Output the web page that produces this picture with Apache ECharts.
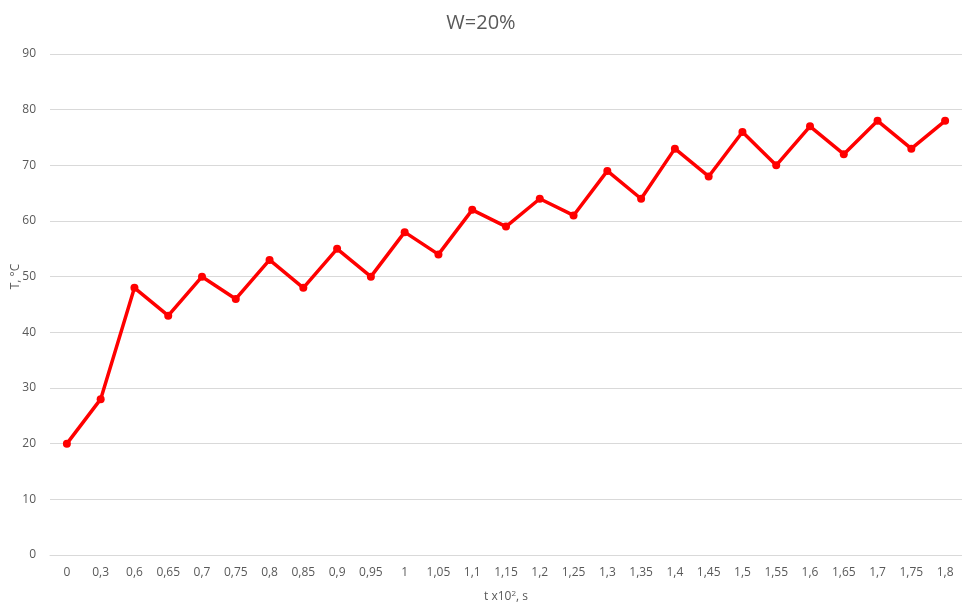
<!DOCTYPE html>
<html>
<head>
<meta charset="utf-8">
<script src="https://cdn.jsdelivr.net/npm/echarts@6/dist/echarts.min.js"></script>
<style>
html, body { margin: 0; padding: 0; background: #fff; }
#main { width: 962px; height: 604px; }
</style>
</head>
<body>
<div id="main"></div>
<script>
var categories = ['0', '0,3', '0,6', '0,65', '0,7', '0,75', '0,8', '0,85', '0,9', '0,95', '1', '1,05', '1,1', '1,15', '1,2', '1,25', '1,3', '1,35', '1,4', '1,45', '1,5', '1,55', '1,6', '1,65', '1,7', '1,75', '1,8'];
var tempValues = [20, 28, 48, 43, 50, 46, 53, 48, 55, 50, 58, 54, 62, 59, 64, 61, 69, 64, 73, 68, 76, 70, 77, 72, 78, 73, 78];

var myChart = echarts.init(document.getElementById('main'));
var option = {
    title: {
        text: 'W=20%',
        left: 'center',
        top: 8,
        textStyle: {
            color: '#595959',
            fontSize: 20,
            fontWeight: 'normal',
            fontFamily: 'Open Sans'
        }
    },
    grid: {
        left: 50,
        right: 0,
        top: 54,
        bottom: 49,
        outerBoundsMode: 'none'
    },
    xAxis: {
        type: 'category',
        data: categories,
        name: 't x10{sup|2}, s',
        nameLocation: 'middle',
        nameGap: 35,
        nameMoveOverlap: false,
        nameTextStyle: {
            color: '#595959',
            fontSize: 12,
            fontFamily: 'Open Sans',
            rich: {
                sup: { fontSize: 8, verticalAlign: 'top', color: '#595959', padding: [0, 0, 6, 0] }
            }
        },
        axisLine: { show: true, lineStyle: { color: '#d9d9d9' } },
        axisTick: { show: false },
        axisLabel: {
            color: '#595959',
            fontSize: 12,
            fontFamily: 'Open Sans',
            interval: 0,
            margin: 12
        }
    },
    yAxis: {
        type: 'value',
        min: 0,
        max: 90,
        interval: 10,
        name: 'T, °C',
        nameLocation: 'middle',
        nameGap: 28,
        nameMoveOverlap: false,
        nameTextStyle: {
            color: '#595959',
            fontSize: 12,
            fontFamily: 'Open Sans',
            padding: [0, 0, 0, 56]
        },
        axisLine: { show: false },
        axisTick: { show: false },
        axisLabel: {
            color: '#595959',
            fontSize: 12,
            fontFamily: 'Open Sans',
            margin: 14
        },
        splitLine: {
            lineStyle: { color: '#d9d9d9' }
        }
    },
    series: [{
        name: 'T',
        type: 'line',
        data: tempValues,
        symbol: 'circle',
        symbolSize: 8,
        itemStyle: { color: '#ff0000' },
        lineStyle: { color: '#ff0000', width: 3.5 },
        animation: false
    }]
};
myChart.setOption(option);

window.onresize = function () {
    myChart.resize();
};
</script>
</body>
</html>
